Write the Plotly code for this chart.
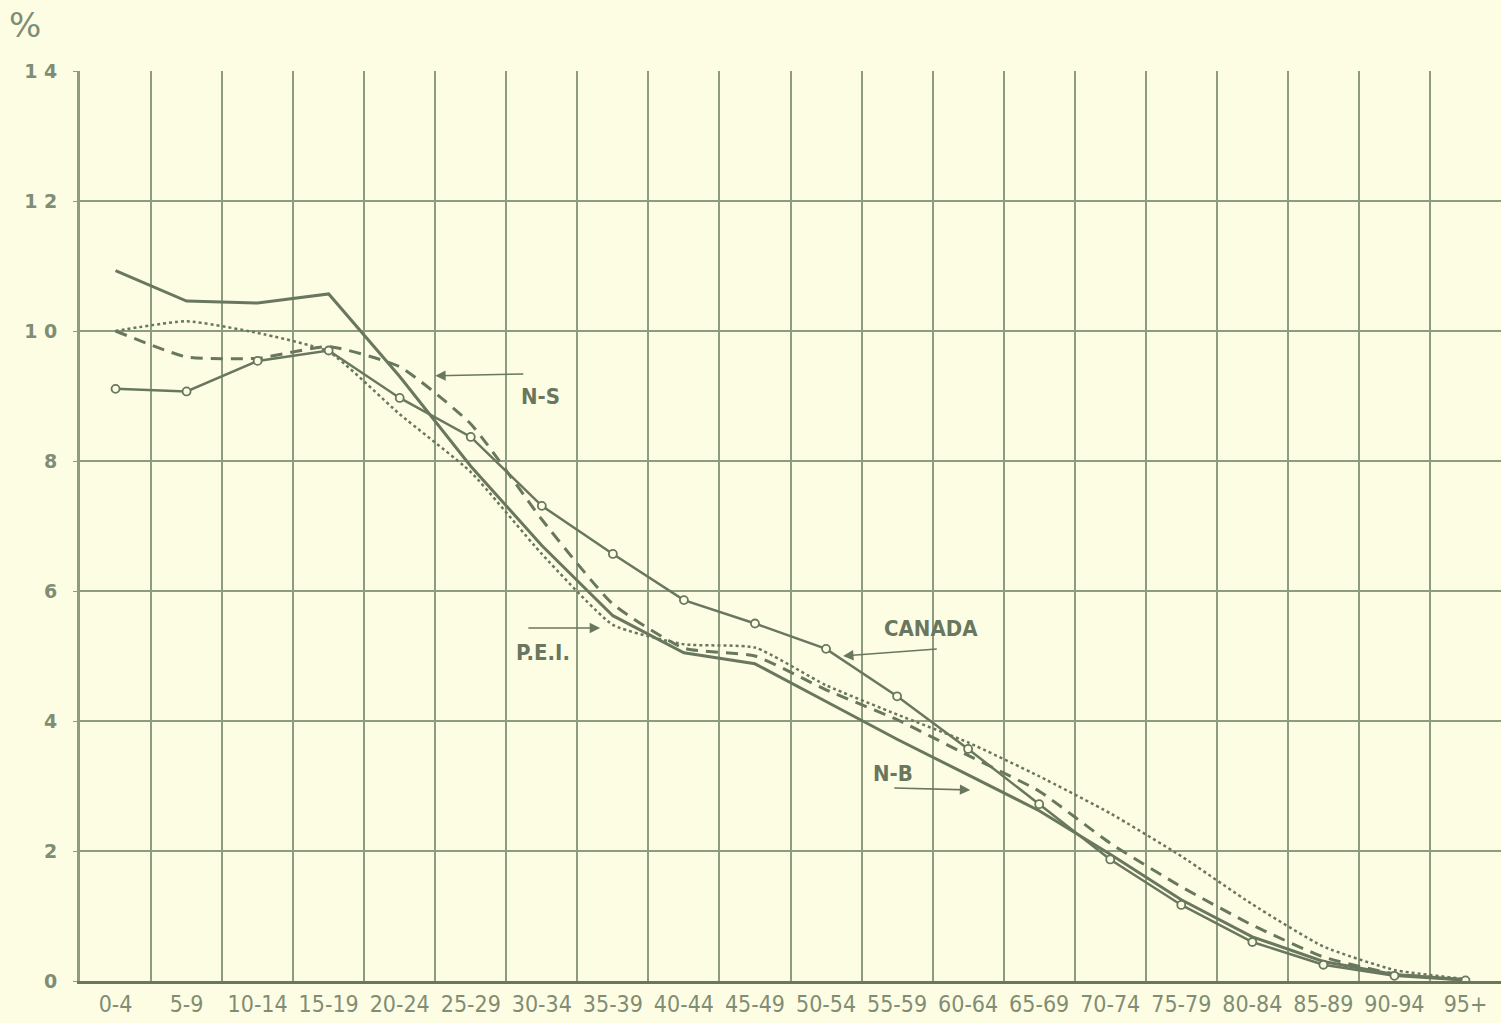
import plotly.graph_objects as go

ages = ["0-4", "5-9", "10-14", "15-19", "20-24", "25-29", "30-34", "35-39", "40-44",
        "45-49", "50-54", "55-59", "60-64", "65-69", "70-74", "75-79", "80-84", "85-89",
        "90-94", "95+"]
canada = [9.11, 9.07, 9.54, 9.70, 8.97, 8.37, 7.31, 6.57, 5.86, 5.50, 5.11, 4.38, 3.57,
          2.72, 1.87, 1.17, 0.60, 0.25, 0.08, 0.01]
nb = [10.93, 10.46, 10.43, 10.57, 9.30, 7.92, 6.70, 5.62, 5.05, 4.88, 4.30, 3.72, 3.17,
      2.62, 1.95, 1.25, 0.68, 0.30, 0.10, 0.02]
ns = [10.00, 9.60, 9.58, 9.76, 9.45, 8.57, 7.10, 5.80, 5.12, 5.00, 4.48, 4.02, 3.47,
      2.92, 2.12, 1.45, 0.86, 0.37, 0.11, 0.02]
pei = [10.00, 10.15, 9.97, 9.68, 8.72, 7.83, 6.57, 5.48, 5.18, 5.13, 4.55, 4.10, 3.67,
       3.15, 2.58, 1.92, 1.18, 0.53, 0.17, 0.03]
y_ticks = [0, 2, 4, 6, 8, 10, 12, 14]
y_tick_text = ["0", "2", "4", "6", "8", "1 0", "1 2", "1 4"]

BG = "#fdfde4"
LINE = "#69775e"
GRID = "#8d9b81"
TXT = "#808d74"
NARROW = "Liberation Sans Narrow, DejaVu Sans Condensed, Arial Narrow, sans-serif"

xs = list(range(len(ages)))

fig = go.Figure()
fig.add_trace(go.Scatter(x=xs, y=pei, mode="lines", name="P.E.I.",
                         line=dict(color=LINE, width=2.5, dash="dot", shape="spline", smoothing=0.5)))
fig.add_trace(go.Scatter(x=xs, y=ns, mode="lines", name="N-S",
                         line=dict(color=LINE, width=3, dash="12px,8px", shape="spline", smoothing=0.5)))
fig.add_trace(go.Scatter(x=xs, y=nb, mode="lines", name="N-B",
                         line=dict(color=LINE, width=3)))
fig.add_trace(go.Scatter(x=xs, y=canada, mode="lines+markers", name="CANADA",
                         line=dict(color=LINE, width=2.5),
                         marker=dict(symbol="circle", size=8, color=BG,
                                     line=dict(color=LINE, width=1.8))))

ann_font = dict(family=NARROW, size=22, color=LINE)

labels = [
    # text, text x, text y, arrow tip x, y, tail x, y
    ("N-S", 5.98, 9.0, 4.50, 9.31, 5.76, 9.34),
    ("P.E.I.", 6.02, 5.05, 6.82, 5.43, 5.79, 5.43),
    ("CANADA", 11.48, 5.42, 10.24, 5.0, 11.58, 5.11),
    ("N-B", 10.94, 3.2, 12.03, 2.94, 10.94, 2.97),
]
for t, tx, ty, hx, hy, bx, by in labels:
    fig.add_annotation(x=tx, y=ty, text="<b>%s</b>" % t, showarrow=False, font=ann_font)
    fig.add_annotation(x=hx, y=hy, ax=bx, ay=by, axref="x", ayref="y", text="",
                       showarrow=True, arrowhead=2, arrowsize=1.3, arrowwidth=1.6,
                       arrowcolor=LINE)

fig.add_annotation(x=-0.039, y=1.05, xref="paper", yref="paper", text="%",
                   xanchor="center", yanchor="middle",
                   showarrow=False, font=dict(family="DejaVu Sans", size=34, color=TXT))

fig.update_layout(
    width=1501, height=1023,
    margin=dict(l=80, r=0, t=71, b=42),
    paper_bgcolor=BG, plot_bgcolor=BG,
    showlegend=False,
    xaxis=dict(range=[-0.5, 19.5], tickmode="array", tickvals=xs, ticktext=ages,
               showgrid=False, zeroline=False, showline=True, linecolor=LINE, linewidth=3,
               ticks="", tickfont=dict(family=NARROW, size=23, color=TXT),
               minor=dict(tickmode="array", tickvals=[i - 0.5 for i in range(1, len(ages))],
                          showgrid=True, gridcolor=GRID, gridwidth=2, ticks="")),
    yaxis=dict(range=[0, 14], tickmode="array", tickvals=y_ticks, ticktext=y_tick_text,
               showgrid=True, gridcolor=GRID, gridwidth=2, zeroline=False,
               showline=True, linecolor=GRID, linewidth=3, ticks="outside", ticklen=4,
               tickcolor=GRID, ticklabelstandoff=12,
               tickfont=dict(family="DejaVu Sans", size=19, color=TXT, weight="bold")),
)

fig.write_html("out.html", config={"displayModeBar": False},
               post_script="document.body.style.margin='0';document.body.style.padding='0';"
                           "document.body.style.background='%s';"
                           "document.documentElement.style.overflow='hidden';" % BG)
